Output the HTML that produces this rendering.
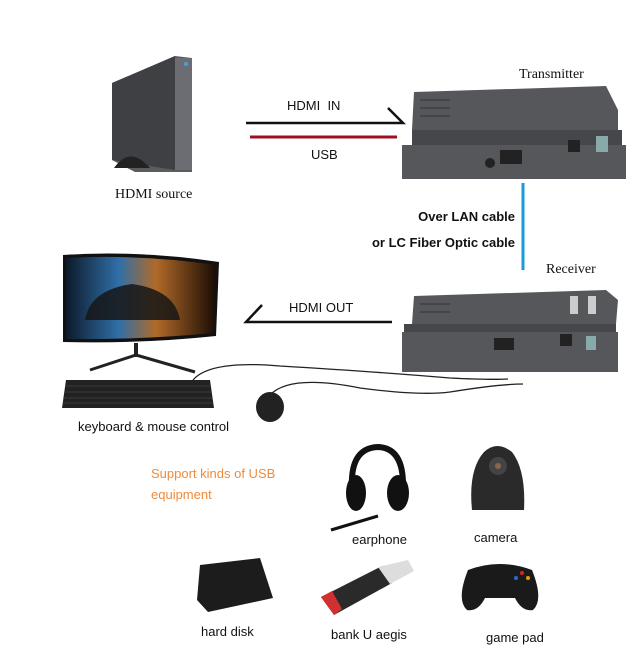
<!DOCTYPE html>
<html><head><meta charset="utf-8"><style>
html,body{margin:0;padding:0;background:#fff;width:641px;height:666px;overflow:hidden}
svg{display:block}
.s{font-family:"Liberation Serif",serif;fill:#111}
.a{font-family:"Liberation Sans",sans-serif;fill:#111}
</style></head><body>
<svg width="641" height="666" viewBox="0 0 641 666" xmlns="http://www.w3.org/2000/svg">
<defs>
<linearGradient id="scr" x1="0" y1="0" x2="1" y2="0"><stop offset="0" stop-color="#0d1a2a"/><stop offset="0.35" stop-color="#2f6fa8"/><stop offset="0.6" stop-color="#b06a28"/><stop offset="1" stop-color="#1a0c05"/></linearGradient>
</defs>
<!-- PC tower -->
<polygon points="112,83 175,56 192,58 192,172 135,172 112,160" fill="#5a5c60"/>
<polygon points="112,83 175,56 175,170 112,160" fill="#3e4044"/>
<rect x="175" y="58" width="17" height="112" fill="#6b6d72"/>
<path d="M114,168 Q130,145 150,168 Z" fill="#222"/>
<circle cx="186" cy="64" r="2" fill="#4aa0e0"/>
<text x="115" y="198" class="s" font-size="14">HDMI source</text>
<!-- HDMI IN -->
<text x="287" y="110" class="a" font-size="13">HDMI&#160;&#160;IN</text>
<path d="M246,123 H403 L388,108" stroke="#111" stroke-width="2.5" fill="none"/>
<line x1="250" y1="137" x2="397" y2="137" stroke="#a01020" stroke-width="3"/>
<text x="311" y="159" class="a" font-size="13">USB</text>
<!-- Transmitter -->
<text x="519" y="78" class="s" font-size="14">Transmitter</text>
<polygon points="414,92 606,86 618,110 618,130 412,130" fill="#55575b"/>
<g stroke="#333" stroke-width="1"><line x1="420" y1="100" x2="450" y2="100"/><line x1="420" y1="108" x2="450" y2="108"/><line x1="420" y1="116" x2="450" y2="116"/></g>
<rect x="412" y="130" width="210" height="15" fill="#45474b"/>
<rect x="402" y="145" width="224" height="34" fill="#55575b"/>
<rect x="500" y="150" width="22" height="14" fill="#222"/>
<rect x="568" y="140" width="12" height="12" fill="#222"/>
<rect x="596" y="136" width="12" height="16" fill="#8aa"/>
<circle cx="490" cy="163" r="5" fill="#222"/>
<!-- blue link -->
<line x1="523" y1="183" x2="523" y2="270" stroke="#1a9ad8" stroke-width="3"/>
<text x="515" y="221" class="a" font-size="13" font-weight="bold" text-anchor="end">Over LAN cable</text>
<text x="515" y="247" class="a" font-size="13" font-weight="bold" text-anchor="end">or LC Fiber Optic cable</text>
<!-- Receiver -->
<text x="546" y="273" class="s" font-size="14">Receiver</text>
<polygon points="414,296 606,290 618,300 616,324 412,324" fill="#55575b"/>
<g stroke="#333" stroke-width="1"><line x1="420" y1="304" x2="450" y2="304"/><line x1="420" y1="312" x2="450" y2="312"/></g>
<rect x="404" y="324" width="212" height="8" fill="#45474b"/>
<rect x="402" y="332" width="216" height="40" fill="#55575b"/>
<rect x="570" y="296" width="8" height="18" fill="#ccc"/>
<rect x="588" y="296" width="8" height="18" fill="#ccc"/>
<rect x="560" y="334" width="12" height="12" fill="#222"/>
<rect x="586" y="336" width="10" height="14" fill="#8aa"/>
<rect x="494" y="338" width="20" height="12" fill="#222"/>
<!-- HDMI OUT -->
<text x="289" y="312" class="a" font-size="13">HDMI OUT</text>
<path d="M392,322 H246 L262,305" stroke="#111" stroke-width="2.5" fill="none"/>
<!-- Monitor -->
<path d="M63,255 Q140,250 219,262 L216,336 Q140,344 63,342 Z" fill="#111"/>
<path d="M66,258 Q140,254 216,265 L213,333 Q140,340 66,339 Z" fill="url(#scr)"/>
<path d="M85,320 Q90,290 132,284 Q175,290 180,320 Z" fill="#161616" opacity="0.85"/>
<rect x="134" y="343" width="4" height="14" fill="#222"/>
<path d="M90,370 L136,355 L195,372" stroke="#222" stroke-width="3" fill="none"/>
<!-- keyboard -->
<polygon points="66,380 210,380 214,408 62,408" fill="#222"/>
<g stroke="#555" stroke-width="0.6"><line x1="66" y1="386" x2="210" y2="386"/><line x1="65" y1="392" x2="211" y2="392"/><line x1="64" y1="398" x2="212" y2="398"/><line x1="63" y1="403" x2="213" y2="403"/></g>
<!-- cables -->
<path d="M193,380 Q210,360 280,366 Q380,372 450,378 Q490,380 508,379" stroke="#222" stroke-width="1.3" fill="none"/>
<path d="M270,395 Q290,374 360,388 Q420,396 450,392 Q500,384 523,384" stroke="#222" stroke-width="1.3" fill="none"/>
<!-- mouse -->
<ellipse cx="270" cy="407" rx="14" ry="15" fill="#222"/>
<text x="78" y="431" class="a" font-size="13">keyboard &amp; mouse control</text>
<!-- orange -->
<text x="151" y="478" class="a" font-size="13" style="fill:#f08a3a">Support kinds of USB</text>
<text x="151" y="499" class="a" font-size="13" style="fill:#f08a3a">equipment</text>
<!-- headphone -->
<path d="M352,488 Q350,448 378,447 Q404,448 403,488" stroke="#111" stroke-width="6" fill="none"/>
<ellipse cx="356" cy="493" rx="10" ry="18" fill="#111"/>
<ellipse cx="398" cy="493" rx="11" ry="18" fill="#111"/>
<line x1="331" y1="530" x2="378" y2="516" stroke="#111" stroke-width="3"/>
<text x="352" y="544" class="a" font-size="13">earphone</text>
<!-- camera -->
<path d="M472,510 Q468,470 484,452 Q497,440 512,452 Q526,470 524,510 Z" fill="#2a2a2a"/>
<circle cx="498" cy="466" r="9" fill="#444"/><circle cx="498" cy="466" r="3" fill="#865"/>
<text x="474" y="542" class="a" font-size="13">camera</text>
<!-- hard disk -->
<polygon points="200,565 260,558 273,598 208,612 197,600" fill="#1c1c1c"/>
<text x="201" y="636" class="a" font-size="13">hard disk</text>
<!-- usb stick -->
<polygon points="321,597 382,566 392,583 334,615" fill="#2a2a2a"/>
<polygon points="321,597 332,591 342,609 334,615" fill="#d03030"/>
<polygon points="378,567 408,560 414,571 390,584" fill="#ddd"/>
<text x="331" y="639" class="a" font-size="13">bank U aegis</text>
<!-- gamepad -->
<path d="M468,570 Q500,558 532,570 Q544,600 533,610 Q522,612 515,598 H485 Q478,612 467,610 Q456,600 468,570 Z" fill="#1a1a1a"/>
<circle cx="522" cy="573" r="2" fill="#d22"/><circle cx="528" cy="578" r="2" fill="#e90"/><circle cx="516" cy="578" r="2" fill="#36c"/>
<text x="486" y="642" class="a" font-size="13">game pad</text>
</svg>
</body></html>
